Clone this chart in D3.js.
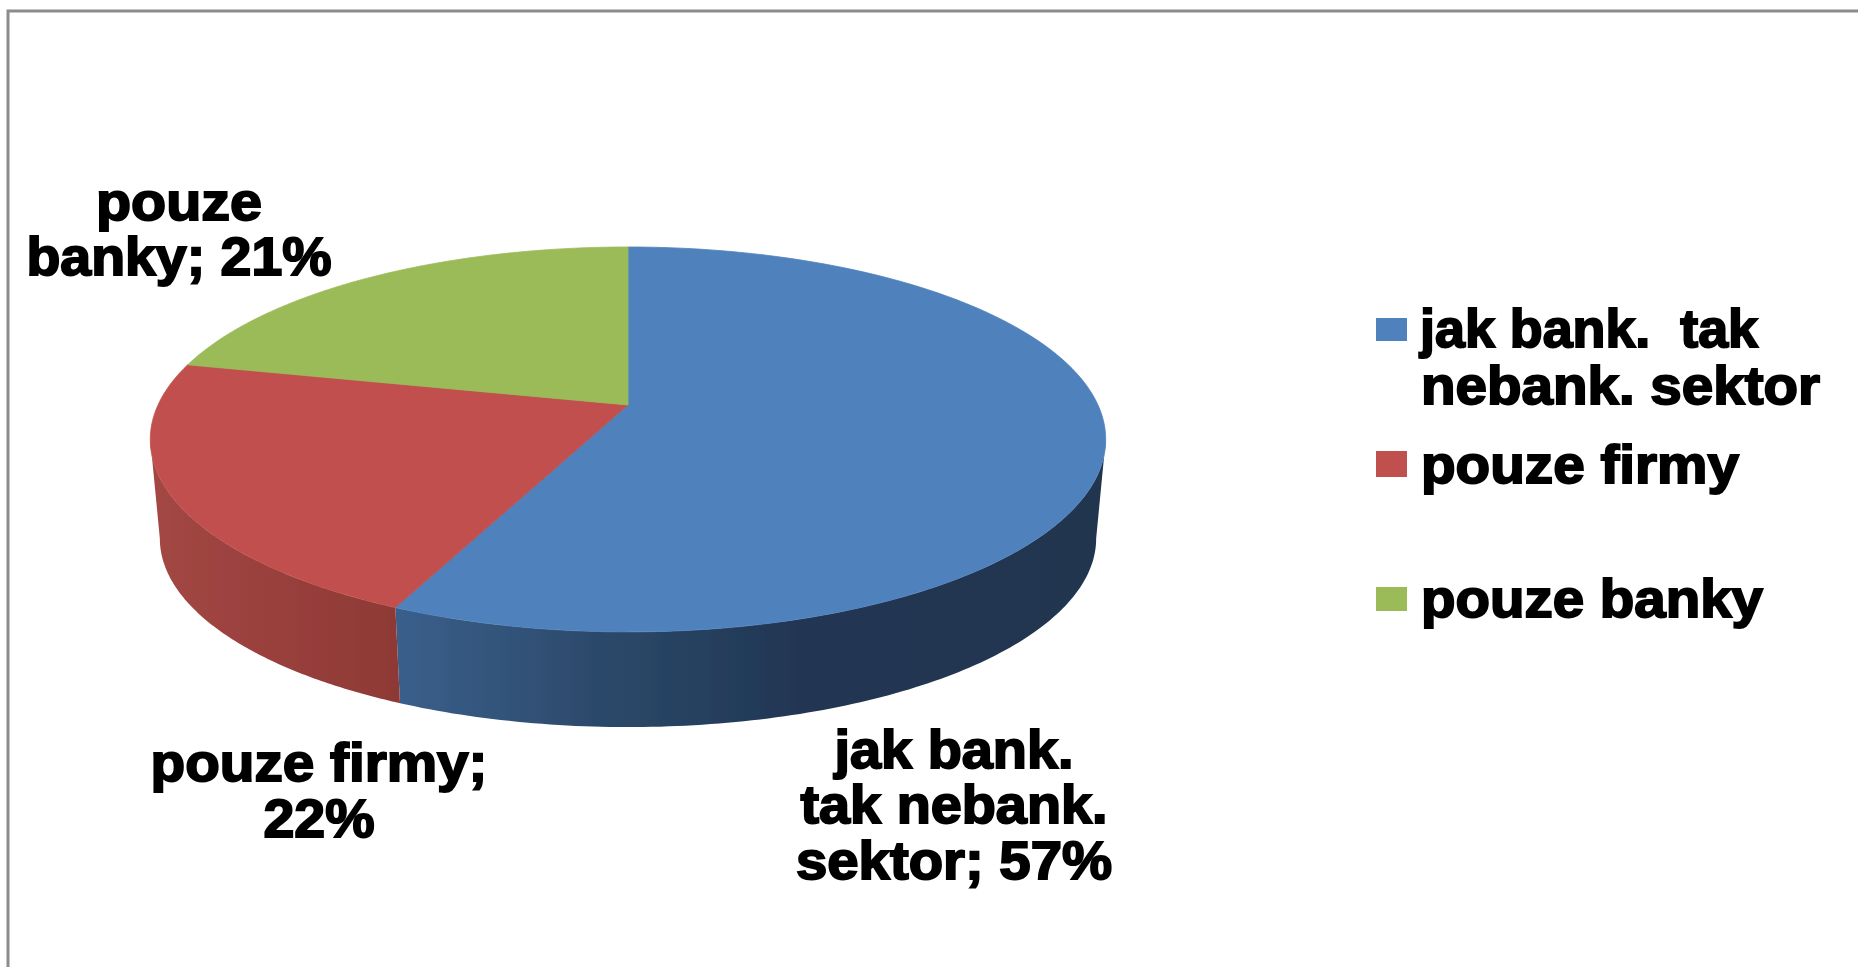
<!DOCTYPE html>
<html>
<head>
<meta charset="utf-8">
<script src="https://cdn.jsdelivr.net/npm/d3@7"></script>
<style>
html,body{margin:0;padding:0;background:#fff;overflow:hidden}
svg{display:block}
text{font-family:"Liberation Sans",Arial,sans-serif;font-weight:700;fill:#000;stroke:#000;stroke-width:1.9px;paint-order:stroke}
</style>
</head>
<body>
<svg id="c" width="1858" height="967"></svg>
<script>
// ---- data ----
const categories = ["jak bank. tak nebank. sektor", "pouze firmy", "pouze banky"];
const shares = [56.8, 21.8, 21.4];
const legendLines = [["jak bank.  tak", "nebank. sektor"], ["pouze firmy"], ["pouze banky"]];
const labelLines = [["jak bank.", "tak nebank.", "sektor; 57%"], ["pouze firmy;", "22%"], ["pouze", "banky; 21%"]];

// ---- styles ----
const topColors = ["#4f81bd", "#c0504d", "#9bbb59"];
const sideStops = [
  [[0, "#3a5f8b"], [0.28, "#2c4a6b"], [0.58, "#203552"], [1, "#203450"]],
  [[0, "#a34744"], [1, "#8e3935"]],
  [[0, "#7c9647"], [1, "#7c9647"]]
];

// ---- layout ----
const P = {cx: 628, apexY: 405, a: 470, b: 186.3, k: 0.179, depth: 99, bottomScale: 0.98};
const fontSize = 53;
const labelLayout = [
  {cx: 954, base: [768, 823, 879], w: [239, 307, 316]},
  {cx: 319, base: [781, 837], w: [337, 111]},
  {cx: 179, base: [220, 275], w: [166, 305]}
];
const legendLayout = [
  {x: 1376, y: 318, h: 23, tx: [1420, 1421], base: [347, 404], w: [338, 399]},
  {x: 1376, y: 451, h: 26, tx: [1421], base: [483], w: [318]},
  {x: 1376, y: 587, h: 24, tx: [1421], base: [617], w: [342]}
];

const svg = d3.select("#c");
const defs = svg.append("defs");
defs.append("filter").attr("id", "soft").append("feGaussianBlur").attr("stdDeviation", 0.7);

// frame
svg.append("path").attr("d", d3.line()([[8, 967], [8, 11], [1858, 11]]))
  .attr("fill", "none").attr("stroke", "#8c8c8c").attr("stroke-width", 3);

// pie angles
const arcs = d3.pie().sort(null).startAngle(0).endAngle(2 * Math.PI)(shares);

// perspective projection of a disc point at clockwise angle th from the top
function rim(th, r = 1, s = 1, dy = 0) {
  const u = r * Math.sin(th), v = -r * Math.cos(th), w = 1 - P.k * v;
  return [P.cx + s * P.a * u / w, P.apexY + dy + s * P.b * v / w + (1 - s) * 35];
}
const sweep = (a, b, f) => d3.range(0, 121).map(d3.scaleLinear([0, 120], [a, b])).map(f);
const line = d3.line();
const group = svg.append("g").attr("filter", "url(#soft)");

// front wall limits: silhouette angles of the projected ellipse
const thR = Math.PI / 2 + Math.asin(P.k), thL = 3 * Math.PI / 2 - Math.asin(P.k);
arcs.forEach((d, i) => {
  const a = Math.max(d.startAngle, thR), b = Math.min(d.endAngle, thL);
  if (b <= a) return;
  const topEdge = sweep(a, b, t => rim(t));
  const botEdge = sweep(b, a, t => rim(t, 1, P.bottomScale, P.depth));
  const xs = topEdge.concat(botEdge).map(p => p[0]);
  const grad = defs.append("linearGradient").attr("id", "side" + i)
    .attr("gradientUnits", "userSpaceOnUse")
    .attr("x1", d3.min(xs)).attr("x2", d3.max(xs)).attr("y1", 0).attr("y2", 0);
  sideStops[i].forEach(s => grad.append("stop").attr("offset", s[0]).attr("stop-color", s[1]));
  group.append("path").attr("d", line(topEdge.concat(botEdge)) + "Z").attr("fill", `url(#side${i})`);
});

// top faces
arcs.forEach((d, i) => {
  const pts = [rim(0, 0)].concat(sweep(d.startAngle, d.endAngle, t => rim(t)));
  group.append("path").attr("d", line(pts) + "Z").attr("fill", topColors[i])
    .attr("stroke", topColors[i]).attr("stroke-width", 0.8);
});

function addLine(str, x, y, w, anchor) {
  svg.append("text").attr("x", x).attr("y", y).attr("font-size", fontSize)
    .attr("text-anchor", anchor).attr("textLength", w).attr("lengthAdjust", "spacingAndGlyphs")
    .attr("xml:space", "preserve").style("white-space", "pre").text(str);
}

// data labels
labelLines.forEach((lines, i) => {
  const L = labelLayout[i];
  lines.forEach((s, j) => addLine(s, L.cx, L.base[j], L.w[j], "middle"));
});

// legend
categories.forEach((c, i) => {
  const L = legendLayout[i];
  svg.append("rect").attr("x", L.x).attr("y", L.y).attr("width", 31).attr("height", L.h).attr("fill", topColors[i]);
  legendLines[i].forEach((s, j) => addLine(s, L.tx[j], L.base[j], L.w[j], "start"));
});
</script>
</body>
</html>
